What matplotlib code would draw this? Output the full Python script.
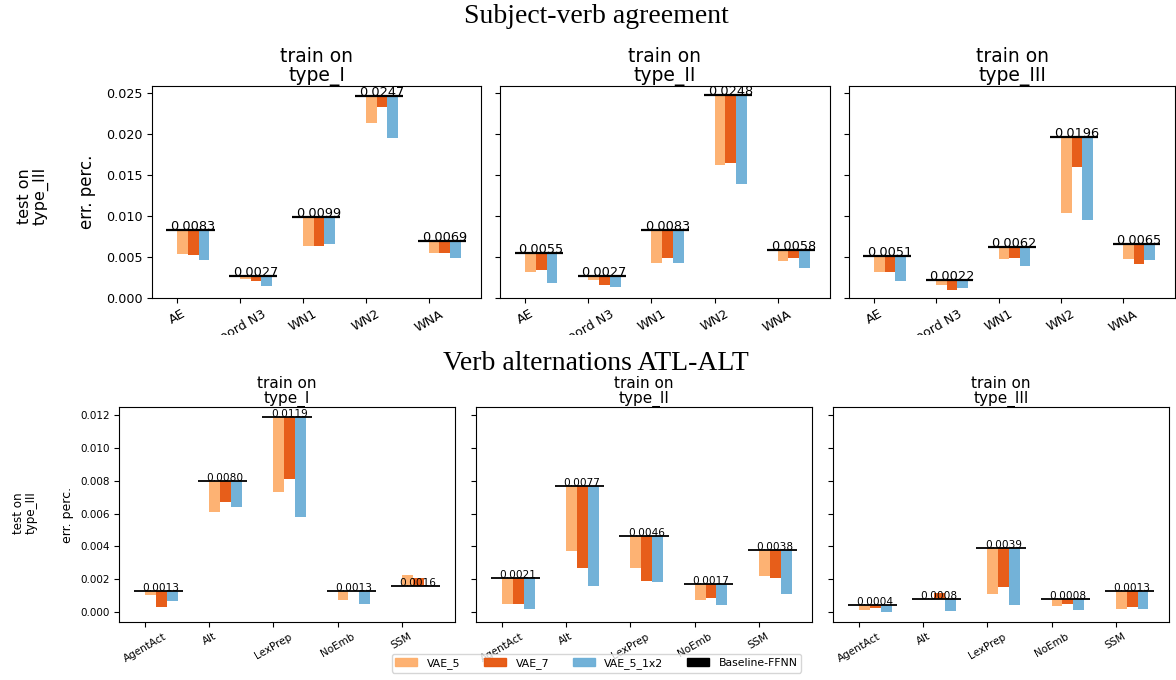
import matplotlib
matplotlib.use("Agg")
import matplotlib.pyplot as plt
import numpy as np
from matplotlib.patches import Patch
from matplotlib.transforms import Bbox, TransformedBbox

# ---- data -------------------------------------------------------------
train_types = ["type_I", "type_II", "type_III"]
series_names = ["VAE_5", "VAE_7", "VAE_5_1x2"]
series_colors = ["#fdae6b", "#e6550d", "#6baed6"]

agr_cats = ["AE", "coord N3", "WN1", "WN2", "WNA"]
agr_baseline = [[0.0083, 0.0027, 0.0099, 0.0247, 0.0069],
                [0.0055, 0.0027, 0.0083, 0.0248, 0.0058],
                [0.0051, 0.0022, 0.0062, 0.0196, 0.0065]]
agr_vae5 = [[0.0053, 0.0023, 0.0063, 0.0214, 0.0054],
            [0.0031, 0.0022, 0.0043, 0.0162, 0.0045],
            [0.0031, 0.0015, 0.0047, 0.0104, 0.0047]]
agr_vae7 = [[0.0052, 0.0021, 0.0063, 0.0233, 0.0054],
            [0.0034, 0.0015, 0.0048, 0.0165, 0.0049],
            [0.0031, 0.0010, 0.0049, 0.0160, 0.0041]]
agr_vae5_1x2 = [[0.0046, 0.0014, 0.0065, 0.0195, 0.0048],
                [0.0018, 0.0013, 0.0043, 0.0139, 0.0036],
                [0.0021, 0.0012, 0.0039, 0.0095, 0.0046]]

alt_cats = ["AgentAct", "Alt", "LexPrep", "NoEmb", "SSM"]
alt_baseline = [[0.0013, 0.0080, 0.0119, 0.0013, 0.0016],
                [0.0021, 0.0077, 0.0046, 0.0017, 0.0038],
                [0.0004, 0.0008, 0.0039, 0.0008, 0.0013]]
alt_vae5 = [[0.00106, 0.0061, 0.0073, 0.00075, 0.00225],
            [0.0005, 0.0037, 0.0027, 0.00075, 0.0022],
            [0.00014, 0.0008, 0.0011, 0.00037, 0.0002]]
alt_vae7 = [[0.0003, 0.0067, 0.0081, 0.0013, 0.00205],
            [0.0005, 0.0027, 0.0019, 0.00083, 0.0021],
            [0.00024, 0.00114, 0.00154, 0.0005, 0.00028]]
alt_vae5_1x2 = [[0.00065, 0.0064, 0.0058, 0.0005, 0.0016],
                [0.0002, 0.0016, 0.0018, 0.00045, 0.0011],
                [0.0, 0.00006, 0.0004, 0.00012, 0.0002]]

W, H = 1176, 680
fig = plt.figure(figsize=(W / 100, H / 100), dpi=100)


def px_axes(left, right, top, bottom, **kw):
    return fig.add_axes([left / W, 1 - bottom / H, (right - left) / W, (bottom - top) / H], **kw)


def draw_panel(ax, cats, base, series, fs_tick, fs_val, fs_title, title, lw):
    x = np.arange(len(cats))
    w = 0.17
    base = np.array(base)
    for k, (vals, col) in enumerate(zip(series, series_colors)):
        vals = np.array(vals)
        ax.bar(x + k * w, vals - base, bottom=base, width=w, align="edge",
               color=col, alpha=0.95, zorder=2)
    ax.hlines(base, x - w, x + 3.5 * w, color="black", lw=lw, zorder=3)
    for xi, b in zip(x, base):
        ax.text(xi + 0.25, b, f"{b:.4f}", ha="center", va="baseline",
                fontsize=fs_val, zorder=4)
    ax.set_xticks(x)
    ax.set_xticklabels(cats, rotation=30, fontsize=fs_tick)
    ax.tick_params(axis="y", labelsize=fs_tick)
    ax.set_xlim(-0.4, 4.83)
    ax.set_title("train on\n" + title, fontsize=fs_title, pad=3, linespacing=1.0)


# ---- top row: subject-verb agreement ----------------------------------
top_pos = [(152, 481), (500, 830), (849, 1175)]
top_axes = []
for i, (l, r) in enumerate(top_pos):
    ax = px_axes(l, r, 85.7, 297.7, sharey=top_axes[0] if top_axes else None)
    draw_panel(ax, agr_cats, agr_baseline[i],
               [agr_vae5[i], agr_vae7[i], agr_vae5_1x2[i]],
               9.2, 9.3, 13.5, train_types[i], 1.6)
    top_axes.append(ax)
top_axes[0].set_ylim(0, 0.0259)
for ax in top_axes[1:]:
    ax.tick_params(labelleft=False)
top_axes[0].set_ylabel("err. perc.", fontsize=12, labelpad=7)

# the top figure was cropped just under its tick labels
clip = TransformedBbox(Bbox([[0, 1 - 335 / H], [1, 1]]), fig.transFigure)
for ax in top_axes:
    for lab in ax.get_xticklabels():
        lab.set_clip_box(clip)
        lab.set_clip_on(True)

# ---- bottom row: verb alternations -------------------------------------
bot_pos = [(119.3, 455), (476, 812.3), (833.3, 1169)]
bot_axes = []
for i, (l, r) in enumerate(bot_pos):
    ax = px_axes(l, r, 407.3, 621.7, sharey=bot_axes[0] if bot_axes else None)
    draw_panel(ax, alt_cats, alt_baseline[i],
               [alt_vae5[i], alt_vae7[i], alt_vae5_1x2[i]],
               7.5, 7.6, 11, train_types[i], 1.3)
    bot_axes.append(ax)
bot_axes[0].set_ylim(-0.00059, 0.01247)
for ax in bot_axes[1:]:
    ax.tick_params(labelleft=False)
bot_axes[0].set_ylabel("err. perc.", fontsize=9, labelpad=4.6)

# row labels and titles
fig.text(33 / W, 1 - 196 / H, "test on\ntype_III", rotation=90, ha="center",
         va="center", fontsize=11.5, linespacing=1.0)
fig.text(25 / W, 1 - 513 / H, "test on\ntype_III", rotation=90, ha="center",
         va="center", fontsize=8.6, linespacing=1.0)
fig.text(596 / W, 1 - 23 / H, "Subject-verb agreement", ha="center", va="baseline",
         fontsize=20, family="Liberation Serif")
fig.text(596 / W, 1 - 370 / H, "Verb alternations ATL-ALT", ha="center", va="baseline",
         fontsize=20, family="Liberation Serif")

handles = [Patch(color=c, alpha=0.95) for c in series_colors] + [Patch(color="black")]
fig.legend(handles, series_names + ["Baseline-FFNN"], ncol=4, loc="lower center",
           bbox_to_anchor=(596.5 / W, 2 / H), fontsize=7.8, handlelength=2.0,
           columnspacing=2.2, handletextpad=0.9, borderpad=0.35, frameon=True)

fig.savefig("out.png", dpi=100)
